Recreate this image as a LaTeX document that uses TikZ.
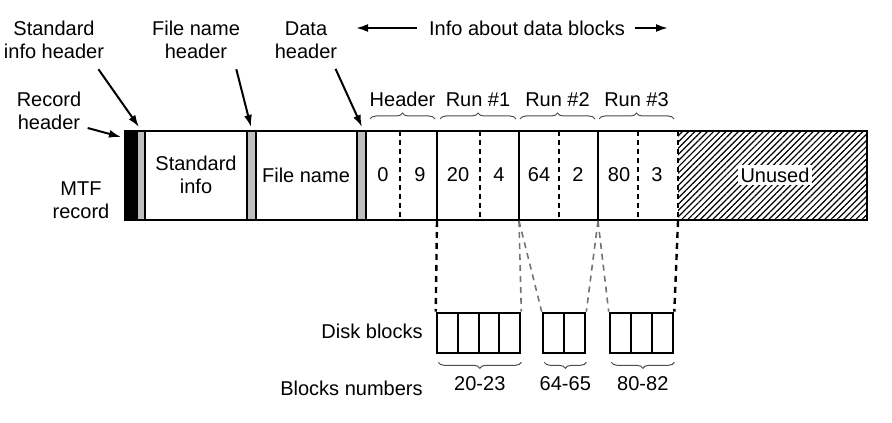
\documentclass[tikz,border=0pt]{standalone}
\usepackage{fontspec}
\setmainfont{Liberation Sans}
\usetikzlibrary{patterns.meta,decorations.pathreplacing,arrows.meta}

\begin{document}
\begin{tikzpicture}[>={Latex[length=6pt,width=4pt]}, x=0.5pt, y=-0.5pt,
        font=\fontsize{10}{11.5}\selectfont,
        lbl/.style={align=center, inner sep=0pt, text=black},
        hdrstrip/.style={draw, fill=black!25, line width=1pt},
        pointer/.style={->, line width=1pt},
        sep/.style={line width=1pt, dash pattern=on 2.5pt off 2pt},
        link/.style={line width=1.2pt, dash pattern=on 3pt off 2.5pt},
        faint/.style={black!55, line width=0.8pt, dash pattern=on 3pt off 2.5pt},
        brc/.style={decorate, decoration={brace, amplitude=3pt}, black!70, line width=0.5pt},
        blk/.style={draw, line width=1.3pt, inner sep=0pt, minimum height=20pt}]
    \useasboundingbox (0,0) rectangle (892,422);

    % labels on top
    \node[lbl] (stdhdr) at (54,40) {Standard\\info header};
    \node[lbl] (fnhdr) at (196,40) {File name\\header};
    \node[lbl] (datahdr) at (306,40) {Data\\header};
    \node[lbl] (rechdr) at (49,111) {Record\\header};
    \node[lbl] (mtf) at (81,200) {MTF\\record};
    \node[lbl] (info) at (527,28) {Info about data blocks};
    \coordinate (infoL) at (356,28);
    \coordinate (infoR) at (668,28);
    \draw[pointer] ([xshift=-6pt]info.west) -- (infoL);
    \draw[pointer] ([xshift=5pt]info.east) -- (infoR);

    % the record
    \fill (125,131) rectangle (137,220);
    \draw[hdrstrip] (137,131) rectangle (145,220);
    \draw[hdrstrip] (247,131) rectangle (256,220);
    \draw[hdrstrip] (357,131) rectangle (366,220);
    \fill[pattern={Lines[angle=45, distance=2.2pt, line width=0.6pt]}] (678,131) rectangle (867,220);
    \draw[line width=1.2pt] (125,131) rectangle (867,220);
    \foreach \x in {437,519,598}
        \draw[line width=1.2pt] (\x,131) -- (\x,220);
    \foreach \x in {400,480,559,638,678}
        \draw[sep] (\x,131) -- (\x,220);

    \node[lbl] (stdinfo) at (196,175) {Standard\\info};
    \node[lbl] (fname) at (306,175) {File name};
    \node[lbl] (unused) at (775,175) [fill=white, inner sep=1.5pt] {Unused};
    \foreach \x/\t in {383/0, 420/9, 458/20, 499/4, 539/64, 578/2, 619/80, 657/3}
        \node[lbl] at (\x,175) {\t};

    % pointers to the headers
    \coordinate (recA) at (121,137);
    \coordinate (stdA) at (139,127);
    \coordinate (fnA) at (251,127);
    \coordinate (dataA) at (362,127);
    \draw[pointer] ([xshift=3pt,yshift=-8.5pt]rechdr.east) -- (recA);
    \draw[pointer] ([xshift=-3pt,yshift=-5pt]stdhdr.south east) -- (stdA);
    \draw[pointer] ([xshift=-2pt,yshift=-5pt]fnhdr.south east) -- (fnA);
    \draw[pointer] ([xshift=-1pt,yshift=-5pt]datahdr.south east) -- (dataA);

    % braces over the runs
    \draw[brc] (370,119) -- (435,119) node[lbl, midway, above=6pt] (hdr) {Header};
    \draw[brc] (440,119) -- (516,119) node[lbl, midway, above=6pt] (run1) {Run \#1};
    \draw[brc] (520,119) -- (595,119) node[lbl, midway, above=6pt] (run2) {Run \#2};
    \draw[brc] (599,119) -- (674,119) node[lbl, midway, above=6pt] (run3) {Run \#3};

    % disk blocks
    \node[blk, minimum width=41.5pt] (g1) at (478.5,333) {};
    \node[blk, minimum width=21pt] (g2) at (564,333) {};
    \node[blk, minimum width=31.5pt] (g3) at (641.5,333) {};
    \foreach \x in {458,479,499}
        \draw[line width=1.3pt] (\x,313) -- (\x,353);
    \draw[line width=1.3pt] (564,313) -- (564,353);
    \foreach \x in {631,652}
        \draw[line width=1.3pt] (\x,313) -- (\x,353);

    \coordinate (b0) at (437,221);
    \coordinate (b1) at (519,221);
    \coordinate (b2) at (598,221);
    \coordinate (b3) at (678,221);
    \draw[link] (b0) -- (g1.north west);
    \draw[faint] (b1) -- (g1.north east);
    \draw[faint] (b1) -- (g2.north west);
    \draw[faint] (b2) -- (g2.north east);
    \draw[faint] (b2) -- (g3.north west);
    \draw[link] (b3) -- (g3.north east);

    \draw[brc] (g1.south east) ++(0,-4pt) -- ++(-41.5pt,0) node[lbl, midway, below=7pt] (n1) {20-23};
    \draw[brc] (g2.south east) ++(0,-4pt) -- ++(-21pt,0) node[lbl, midway, below=7pt] (n2) {64-65};
    \draw[brc] (g3.south east) ++(0,-4pt) -- ++(-31.5pt,0) node[lbl, midway, below=7pt] (n3) {80-82};

    \node[lbl, anchor=east] (dlbl) at (423,331) {Disk blocks};
    \node[lbl, anchor=east] (nlbl) at (423,388) {Blocks numbers};
\end{tikzpicture}
\end{document}
